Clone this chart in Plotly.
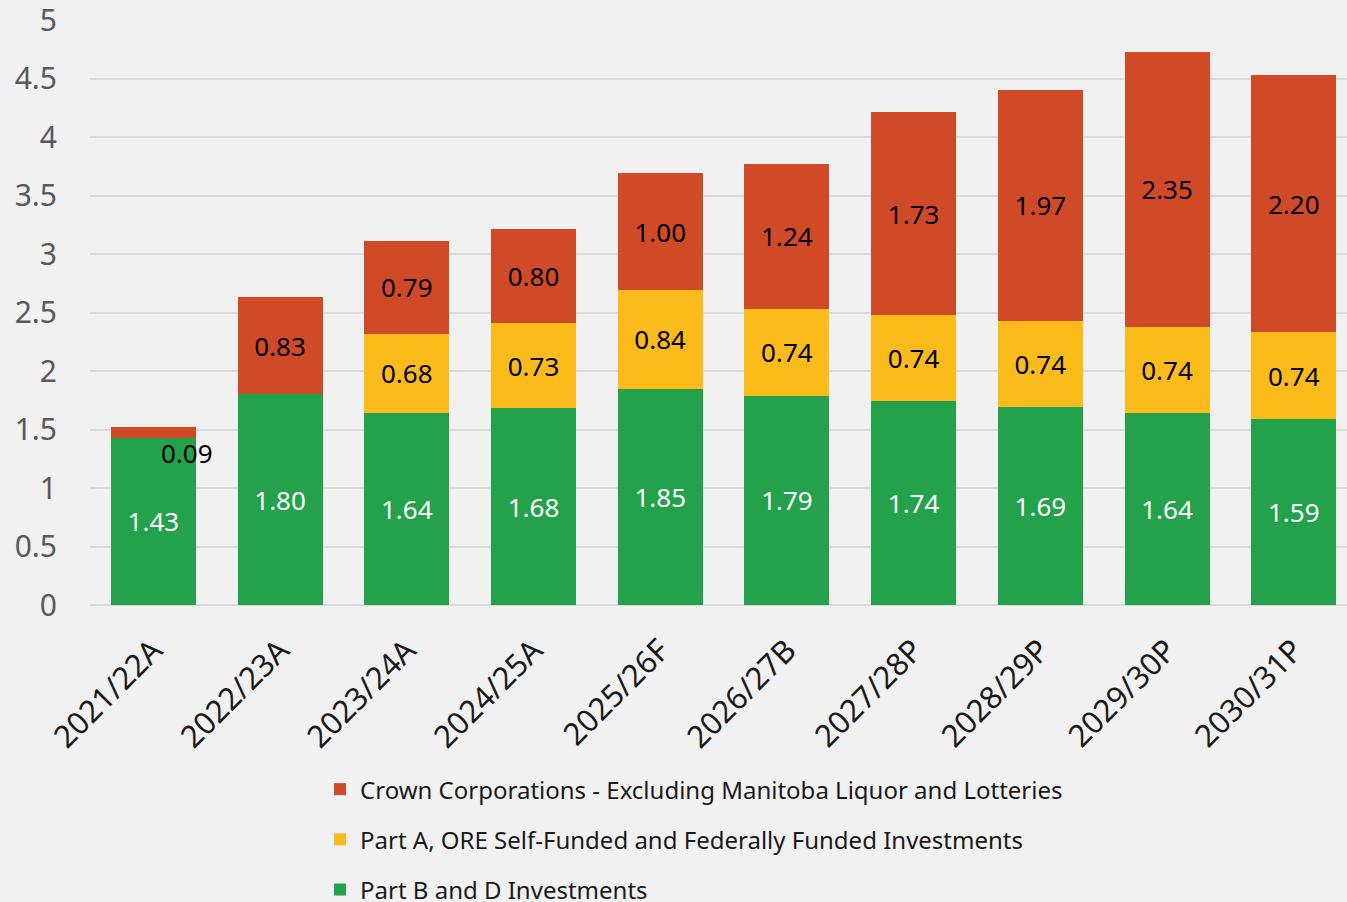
import plotly.graph_objects as go

years = ["2021/22A", "2022/23A", "2023/24A", "2024/25A", "2025/26F",
         "2026/27B", "2027/28P", "2028/29P", "2029/30P", "2030/31P"]
part_bd = [1.43, 1.80, 1.64, 1.68, 1.85, 1.79, 1.74, 1.69, 1.64, 1.59]
part_a = [None, None, 0.68, 0.73, 0.84, 0.74, 0.74, 0.74, 0.74, 0.74]
crown = [0.09, 0.83, 0.79, 0.80, 1.00, 1.24, 1.73, 1.97, 2.35, 2.20]

names = {
    "crown": "Crown Corporations - Excluding Manitoba Liquor and Lotteries",
    "a": "Part A, ORE Self-Funded and Federally Funded Investments",
    "bd": "Part B and D Investments",
}
colors = {"crown": "#d04a27", "a": "#fbbb1b", "bd": "#24a14b"}
FONT = "Noto Sans"
BG = "#f1f1f1"

def fmt(vals):
    return ["" if v is None else f"{v:.2f}" for v in vals]

# the tiny first crown segment gets its label as an annotation instead
crown_text = fmt(crown)
crown_text[0] = ""

fig = go.Figure()
series = [
    ("bd", part_bd, fmt(part_bd), "white", 3),
    ("a", part_a, fmt(part_a), "black", 2),
    ("crown", crown, crown_text, "black", 1),
]
for key, vals, txt, tcolor, rank in series:
    fig.add_trace(go.Bar(
        x=years, y=vals, name=names[key], legendgroup=key, legendrank=rank,
        marker=dict(color=colors[key], line=dict(width=0)),
        text=txt, textposition="inside", insidetextanchor="middle",
        textangle=0, constraintext="none",
        textfont=dict(family=FONT, size=26, color=tcolor),
        width=0.67,
    ))

fig.add_annotation(
    x=years[0], y=part_bd[0], text=f"{crown[0]:.2f}", showarrow=False,
    xshift=34, yshift=-15, font=dict(family=FONT, size=26, color="black"),
)

fig.update_layout(
    barmode="stack",
    width=1347, height=902,
    paper_bgcolor=BG, plot_bgcolor=BG,
    margin=dict(l=90, r=0, t=20, b=297, autoexpand=False),
    font=dict(family=FONT),
    showlegend=True,
    legend=dict(
        orientation="v", traceorder="grouped", tracegroupgap=16,
        x=0.183, xanchor="left", y=-0.277, yanchor="top",
        font=dict(family=FONT, size=24, color="#1a1a1a"),
        bgcolor="rgba(0,0,0,0)",
    ),
    xaxis=dict(
        range=[-0.5, 9.42], tickangle=-45, automargin=False,
        tickfont=dict(family=FONT, size=31, color="#1a1a1a"),
        showgrid=False, showline=False, ticks="",
        ticklabelstandoff=20,
    ),
    yaxis=dict(
        range=[0, 5], dtick=0.5, tickformat="~g", automargin=False,
        ticklabeloverflow="allow",
        tickfont=dict(family=FONT, size=30, color="#595959"),
        gridcolor="#d9d9d9", gridwidth=1.5, zeroline=True,
        zerolinecolor="#d9d9d9", zerolinewidth=2,
        ticklabelstandoff=32,
    ),
)

fig.write_html("out.html", config={"displayModeBar": False},
               post_script="document.body.style.margin='0';")
